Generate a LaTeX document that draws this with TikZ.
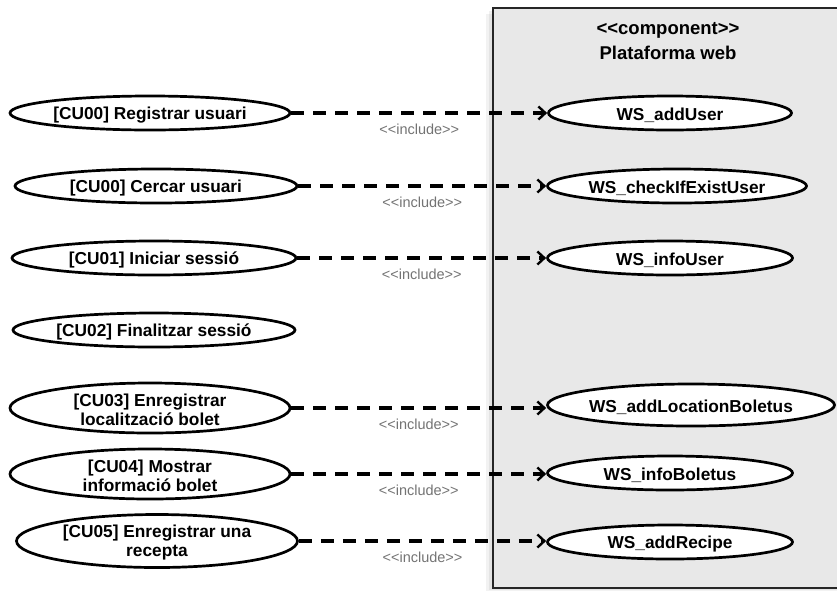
\documentclass[tikz,border=0pt]{standalone}
\usepackage{fontspec}
\setmainfont{Liberation Sans}
\usetikzlibrary{shapes.geometric,arrows.meta}

\newcommand{\guil}[1]{<{}<#1>{}>}

\tikzset{
  usecase/.style={ellipse, draw=black, line width=2.7pt, fill=white, inner sep=0pt,
    minimum height=34pt},
  uctext/.style={font=\fontsize{17.3}{19}\selectfont\bfseries, align=center, yshift=-2pt},
  incl/.style={line width=3.2pt, dash pattern=on 13pt off 9pt,
    -{Straight Barb[length=7pt,width=13pt,line width=2.4pt]}},
  incllabel/.style={font=\fontsize{14.5}{16}\selectfont, text=black!55, inner sep=0pt},
  compbox/.style={draw=black!85, line width=1.6pt, fill=black!9},
  comptitle/.style={font=\fontsize{18.5}{20}\selectfont\bfseries, inner sep=0pt}
}

\begin{document}
\begin{tikzpicture}[x=1pt,y=-1pt]
\useasboundingbox (0,0) rectangle (837,590);

% component box with a soft shadow on its left edge
\fill[black, opacity=0.05] (486,14) rectangle (845,592);
\fill[black, opacity=0.06] (489,11) rectangle (845,590);
\draw[compbox] (493,8) rectangle (850,588);
\node[comptitle] (stereo) at (668,30) {\guil{component}};
\node[comptitle] (compname) at (668,53) {Plataforma web};

% use cases (left)
\node[usecase, minimum width=280pt] (cu1) at (150,113) {};
\node[uctext] at (cu1) {[CU00] Registrar usuari};
\node[usecase, minimum width=282pt] (cu2) at (156,186) {};
\node[uctext] at (cu2) {[CU00] Cercar usuari};
\node[usecase, minimum width=284pt] (cu3) at (154,258) {};
\node[uctext] at (cu3) {[CU01] Iniciar sessió};
\node[usecase, minimum width=282pt] (cu4) at (154,330) {};
\node[uctext] at (cu4) {[CU02] Finalitzar sessió};
\node[usecase, minimum width=280pt, minimum height=50pt] (cu5) at (150,408) {};
\node[uctext] at (cu5) {[CU03] Enregistrar\\localització bolet};
\node[usecase, minimum width=280pt, minimum height=50pt] (cu6) at (150,474) {};
\node[uctext] at (cu6) {[CU04] Mostrar\\informació bolet};
\node[usecase, minimum width=281pt, minimum height=53pt] (cu7) at (157,541) {};
\node[uctext] at (cu7) {[CU05] Enregistrar una\\recepta};

% web services (right)
\node[usecase, minimum width=243pt] (ws1) at (670,113) {};
\node[uctext] at (ws1) {WS\_addUser};
\node[usecase, minimum width=259pt] (ws2) at (677,186) {};
\node[uctext] at (ws2) {WS\_checkIfExistUser};
\node[usecase, minimum width=245pt] (ws3) at (670,258) {};
\node[uctext] at (ws3) {WS\_infoUser};
\node[usecase, minimum width=287pt, minimum height=42pt] (ws5) at (691,405) {};
\node[uctext] at (ws5) {WS\_addLocationBoletus};
\node[usecase, minimum width=245pt] (ws6) at (670,473) {};
\node[uctext] at (ws6) {WS\_infoBoletus};
\node[usecase, minimum width=245pt] (ws7) at (670,542) {};
\node[uctext] at (ws7) {WS\_addRecipe};

% include dependencies
\foreach \a/\b in {cu1/ws1, cu2/ws2, cu3/ws3, cu5/ws5, cu6/ws6, cu7/ws7}{
  \draw[incl] (\a.east) -- (\a.east -| \b.west)
    node[midway, below=9pt, incllabel] {\guil{include}};
}
\end{tikzpicture}
\end{document}
